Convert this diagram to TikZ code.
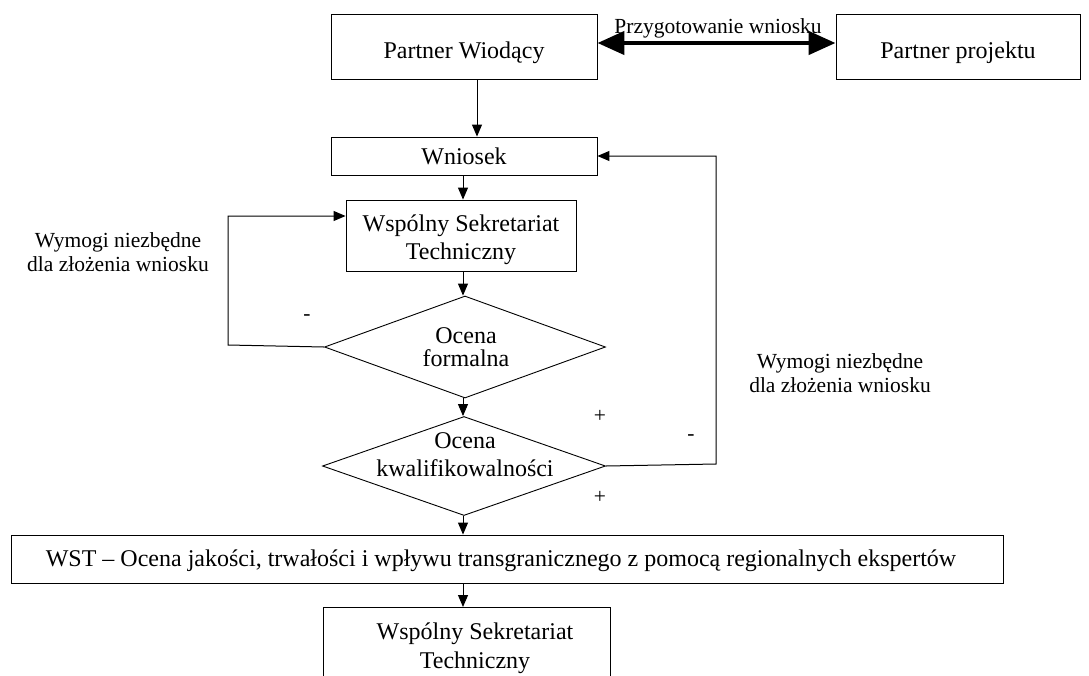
\documentclass[tikz,border=0pt]{standalone}
\usepackage{fontspec}
\setmainfont{Liberation Serif}
\usetikzlibrary{arrows.meta,shapes.geometric}
\begin{document}
\begin{tikzpicture}[x=1pt,y=-1pt,
  box/.style={draw,line width=0.9pt,inner sep=0pt,align=center,font=\fontsize{24}{28}\selectfont},
  dia/.style={draw,line width=0.9pt,shape=diamond,inner sep=0pt},
  txt/.style={inner sep=0pt,align=center,font=\fontsize{24}{28}\selectfont},
  lbl/.style={inner sep=0pt,align=center,font=\fontsize{21.5}{23.5}\selectfont},
  tip/.style={-{Triangle[length=12pt,width=10pt]}},
  conn/.style={line width=1pt,tip},
  loopline/.style={line width=1pt}]
\useasboundingbox (0,0) rectangle (1089,675);
\node[box,minimum width=266pt,minimum height=65pt] (pw) at (464,46.5) {};
\node[txt] (pwt) at (464,53) {Partner Wiodący};
\node[box,minimum width=244pt,minimum height=65pt] (pp) at (958,46.5) {};
\node[txt] (ppt) at (958,53) {Partner projektu};
\node[box,minimum width=266pt,minimum height=38pt] (wn) at (464,156) {Wniosek};
\node[box,minimum width=230pt,minimum height=71pt] (wst1) at (461,235.5) {};
\node[txt] (wst1t) at (461,240) {Wspólny Sekretariat\\Techniczny};
\node[dia,minimum width=281pt,minimum height=102pt] (d1) at (465,347) {};
\node[txt,font=\fontsize{24}{23}\selectfont] (d1t) at (466,347.5) {Ocena\\formalna};
\node[dia,minimum width=283pt,minimum height=99pt] (d2) at (464,466) {};
\node[txt] (d2t) at (465,455) {Ocena\\kwalifikowalności};
\node[box,minimum width=992pt,minimum height=48pt] (big) at (507,559) {};
\node[txt] (bigt) at (501,561) {WST – Ocena jakości, trwałości i wpływu transgranicznego z pomocą regionalnych ekspertów};
\node[draw,line width=0.9pt,minimum width=287pt,minimum height=80pt,anchor=north] (wst2) at (466.5,607) {};
\node[txt,font=\fontsize{24}{29}\selectfont] (wst2t) at (475,648) {Wspólny Sekretariat\\Techniczny};
% double arrow
\draw[line width=4.5pt,{Triangle[length=27pt,width=23pt]}-{Triangle[length=27pt,width=23pt]}] ([yshift=3.5pt]pw.east) -- ([yshift=3.5pt]pp.west);
\node[lbl] (prz) at (718,28) {Przygotowanie wniosku};
% vertical flow
\draw[conn] (pw.south -| 477,0) -- (wn.north -| 477,0);
\draw[conn] (wn.south -| 463,0) -- (wst1.north -| 463,0);
\draw[conn] (wst1.south -| 463,0) -- (d1.north -| 463,0);
\draw[conn] (d1.south -| 463,0) -- (d2.north -| 463,0);
\draw[conn] (d2.south -| 463,0) -- (big.north -| 463,0);
\draw[conn] (big.south -| 463,0) -- (wst2.north -| 463,0);
% left loop
\coordinate (l1) at (228,345);
\coordinate (l2) at (228,216);
\draw[loopline,tip] (d1.west) -- (l1) -- (l2) -- (wst1.west |- l2);
% right loop
\coordinate (r1) at (716,464);
\coordinate (r2) at (716,156);
\draw[loopline,tip] (d2.east) -- (r1) -- (r2) -- (wn.east);
% labels
\node[lbl] (wl) at (118,252) {Wymogi niezbędne\\dla złożenia wniosku};
\node[lbl] (wr) at (840,373) {Wymogi niezbędne\\dla złożenia wniosku};
\node[lbl] (m1) at (307,318) {-};
\node[lbl] (m2) at (691,438) {-};
\node[lbl] (p1) at (600,416) {+};
\node[lbl] (p2) at (600,497) {+};
\end{tikzpicture}
\end{document}
